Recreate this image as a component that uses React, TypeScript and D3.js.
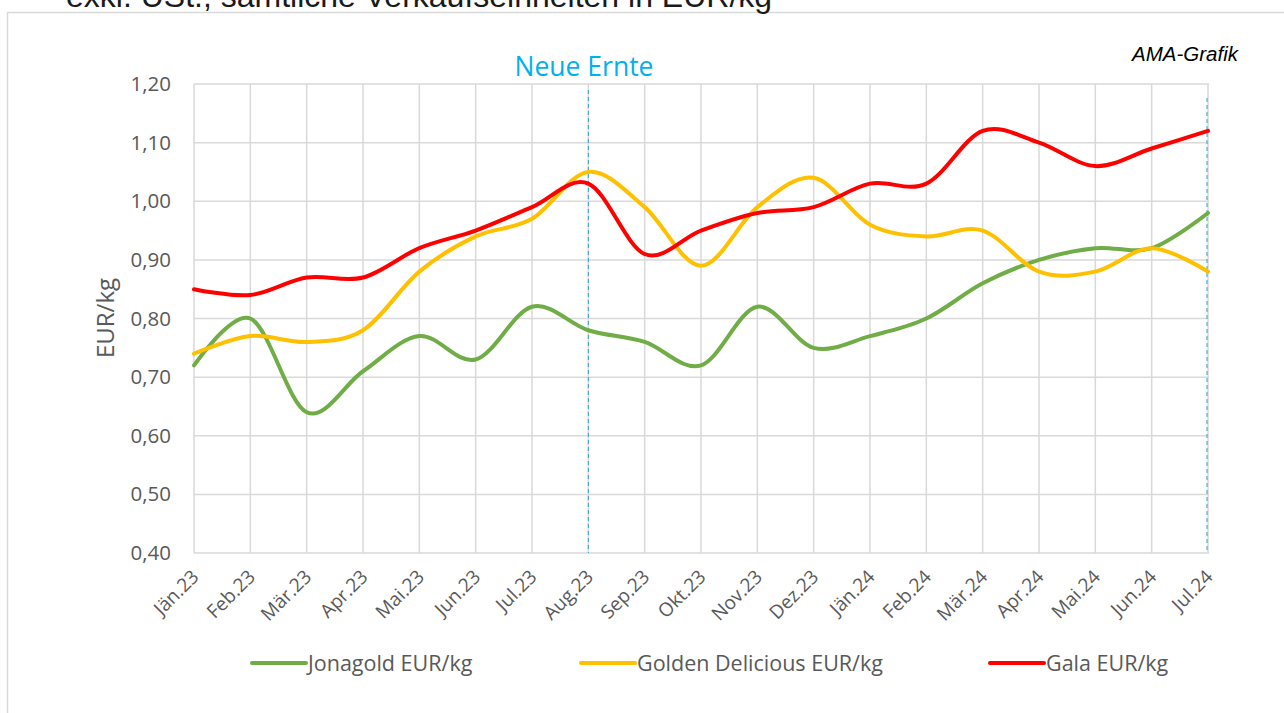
import React from "react";
import * as d3 from "d3";

const width = 1284;
const height = 713;

const months = [
  "Jän.23", "Feb.23", "Mär.23", "Apr.23", "Mai.23", "Jun.23", "Jul.23", "Aug.23", "Sep.23", "Okt.23",
  "Nov.23", "Dez.23", "Jän.24", "Feb.24", "Mär.24", "Apr.24", "Mai.24", "Jun.24", "Jul.24",
];
const jonagold = [0.72, 0.8, 0.64, 0.71, 0.77, 0.73, 0.82, 0.78, 0.76, 0.72, 0.82, 0.75, 0.77, 0.8, 0.86, 0.9, 0.92, 0.92, 0.98];
const golden = [0.74, 0.77, 0.76, 0.78, 0.88, 0.94, 0.97, 1.05, 0.99, 0.89, 0.99, 1.04, 0.96, 0.94, 0.95, 0.88, 0.88, 0.92, 0.88];
const gala = [0.85, 0.84, 0.87, 0.87, 0.92, 0.95, 0.99, 1.03, 0.91, 0.95, 0.98, 0.99, 1.03, 1.03, 1.12, 1.1, 1.06, 1.09, 1.12];
const yTicks = [0.4, 0.5, 0.6, 0.7, 0.8, 0.9, 1.0, 1.1, 1.2];

const series = [
  { name: "Jonagold EUR/kg", values: jonagold, color: "#70ad47", lx: 252 },
  { name: "Golden Delicious EUR/kg", values: golden, color: "#ffc000", lx: 581 },
  { name: "Gala EUR/kg", values: gala, color: "#ff0000", lx: 990 },
];

const font = "'Open Sans', sans-serif";
const grey = "#595959";

export default function App() {
  const x = d3.scalePoint<string>().domain(months).range([194, 1208]);
  const y = d3.scaleLinear().domain([0.4, 1.2]).range([553, 84]);
  const fmt = (v: number) => d3.format(".2f")(v).replace(".", ",");

  const line = d3
    .line<number>()
    .x((_, i) => x(months[i]) as number)
    .y((d) => y(d))
    .curve(d3.curveCardinal.tension(0));

  const xAug = x("Aug.23") as number;
  const xJul = x("Jul.24") as number;

  return (
    <svg width={width} height={height} style={{ position: "absolute", left: 0, top: 0, background: "#fff" }}>
      <rect x={7.5} y={12.5} width={1300} height={720} fill="none" stroke="#d9d9d9" strokeWidth={1.5} />
      <text x={66} y={7} fontFamily="'Liberation Sans', Arial, sans-serif" fontSize={32} fill="#1a1a1a">
        exkl. USt., sämtliche Verkaufseinheiten in EUR/kg
      </text>
      <text x={1238} y={61} textAnchor="end" fontFamily="'Liberation Sans', Arial, sans-serif" fontStyle="italic" fontSize={20.5} fill="#000">
        AMA-Grafik
      </text>

      {/* grid */}
      {yTicks.map((t) => (
        <line key={t} x1={194} x2={1209} y1={y(t)} y2={y(t)} stroke="#d9d9d9" strokeWidth={1.5} />
      ))}
      {months.map((m) => (
        <line key={m} x1={x(m)} x2={x(m)} y1={84} y2={553} stroke="#d9d9d9" strokeWidth={1.5} />
      ))}

      {/* y labels */}
      {yTicks.map((t) => (
        <text key={t} x={171} y={y(t) + 7} textAnchor="end" fontFamily={font} fontSize={20.5} fill={grey}>
          {fmt(t)}
        </text>
      ))}
      <text
        transform="translate(114,318) rotate(-90)"
        textAnchor="middle"
        fontFamily={font}
        fontSize={24}
        fill={grey}
      >
        EUR/kg
      </text>

      {/* x labels */}
      {months.map((m) => (
        <text
          key={m}
          transform={`translate(${(x(m) as number) + 6},${578}) rotate(-45)`}
          textAnchor="end"
          fontFamily={font}
          fontSize={19}
          fill={grey}
        >
          {m}
        </text>
      ))}

      {/* harvest markers */}
      <line x1={xAug} x2={xAug} y1={90} y2={553} stroke="#2f9fd0" strokeWidth={1} strokeDasharray="4,3" />
      <line x1={xJul - 1} x2={xJul - 1} y1={98} y2={553} stroke="#2f9fd0" strokeWidth={1} strokeDasharray="4,3" />
      <text x={584} y={76} textAnchor="middle" fontFamily={font} fontSize={26.5} fill="#00b0f0">
        Neue Ernte
      </text>

      {series.map((s) => (
        <path key={s.name} d={line(s.values) || ""} fill="none" stroke={s.color} strokeWidth={4} strokeLinecap="round" />
      ))}

      {/* legend */}
      {series.map((s) => (
        <g key={s.name}>
          <line x1={s.lx} x2={s.lx + 54} y1={663} y2={663} stroke={s.color} strokeWidth={4} strokeLinecap="round" />
          <text x={s.lx + 56} y={671} fontFamily={font} fontSize={21.5} fill={grey}>
            {s.name}
          </text>
        </g>
      ))}
    </svg>
  );
}
